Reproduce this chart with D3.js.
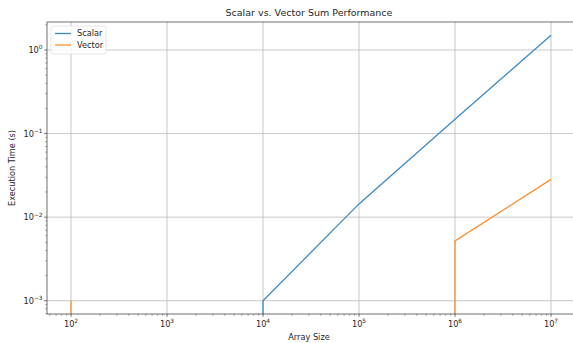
<!DOCTYPE html>
<meta charset="utf-8">
<script src="https://d3js.org/d3.v7.min.js"></script>
<style>
  body { margin: 0; background: white; }
  text { font-family: "DejaVu Sans", sans-serif; fill: #262626; }
</style>
<div id="chart"></div>
<script>

  // data (0 means below the log axis)
  var sizes = [1e2, 1e3, 1e4, 1e5, 1e6, 1e7];
  var scalarTimes = [0, 0, 0.001, 0.0144, 0.148, 1.5];
  var vectorTimes = [0.001, 0, 0, 0, 0.0052, 0.0283];
  var seriesNames = ["Scalar", "Vector"];
  var seriesColors = ["#3d8bc4", "#ff8f2e"];
  var xTickExps = [2, 3, 4, 5, 6, 7];
  var yTickExps = [-3, -2, -1, 0];

  var margin = {top: 22, right: -2, bottom: 29, left: 47},
      width = 573 - margin.left - margin.right,
      height = 343 - margin.top - margin.bottom;

  var svg = d3.select("#chart")
    .append("svg")
      .attr("width", 573)
      .attr("height", 343)
    .append("g")
      .attr("transform", "translate(" + margin.left + "," + margin.top + ")");

  // matplotlib style 5% margins in log space
  var x = d3.scaleLog()
    .domain([Math.pow(10, 1.75), Math.pow(10, 7.25)])
    .range([0, width]);

  var yMin = Math.log10(0.001), yMax = Math.log10(1.5);
  var pad = (yMax - yMin) * 0.05;
  var y = d3.scaleLog()
    .domain([Math.pow(10, yMin - pad), Math.pow(10, yMax + pad)])
    .range([height, 0]);

  svg.append("clipPath").attr("id", "clip")
    .append("rect").attr("width", width).attr("height", height);

  // grid
  svg.selectAll(".xgrid")
    .data(xTickExps)
    .enter().append("line")
      .attr("x1", function(d) { return x(Math.pow(10, d)); })
      .attr("x2", function(d) { return x(Math.pow(10, d)); })
      .attr("y1", 0).attr("y2", height)
      .attr("stroke", "#b0b0b0").attr("stroke-width", 0.7);
  svg.selectAll(".ygrid")
    .data(yTickExps)
    .enter().append("line")
      .attr("y1", function(d) { return y(Math.pow(10, d)); })
      .attr("y2", function(d) { return y(Math.pow(10, d)); })
      .attr("x1", 0).attr("x2", width)
      .attr("stroke", "#b0b0b0").attr("stroke-width", 0.7);

  // lines
  var series = [scalarTimes, vectorTimes];
  var line = d3.line()
    .x(function(d, i) { return x(sizes[i]); })
    .y(function(d) { return d > 0 ? y(d) : height + 100000; });

  svg.append("g").attr("clip-path", "url(#clip)")
    .selectAll("path")
    .data(series)
    .enter().append("path")
      .attr("d", line)
      .attr("fill", "none")
      .attr("stroke", function(d, i) { return seriesColors[i]; })
      .attr("stroke-width", 1.3);

  // frame
  svg.append("rect")
    .attr("width", width).attr("height", height)
    .attr("fill", "none").attr("stroke", "#333").attr("stroke-width", 0.7);

  // minor ticks
  var xMinor = [], yMinor = [];
  for (var e = 1; e <= 7; e++) for (var m = 2; m <= 9; m++) {
    var v = m * Math.pow(10, e);
    if (v > x.domain()[0] && v < x.domain()[1]) xMinor.push(v);
  }
  for (var e = -4; e <= 0; e++) for (var m = 2; m <= 9; m++) {
    var v = m * Math.pow(10, e);
    if (v > y.domain()[0] && v < y.domain()[1]) yMinor.push(v);
  }
  svg.selectAll(".xminor").data(xMinor).enter().append("line")
    .attr("x1", function(d) { return x(d); }).attr("x2", function(d) { return x(d); })
    .attr("y1", height).attr("y2", height + 1.6)
    .attr("stroke", "#333").attr("stroke-width", 0.5);
  svg.selectAll(".yminor").data(yMinor).enter().append("line")
    .attr("y1", function(d) { return y(d); }).attr("y2", function(d) { return y(d); })
    .attr("x1", 0).attr("x2", -1.6)
    .attr("stroke", "#333").attr("stroke-width", 0.5);

  // major ticks + labels
  var xt = svg.selectAll(".xtick").data(xTickExps).enter().append("g")
    .attr("transform", function(d) { return "translate(" + x(Math.pow(10, d)) + "," + height + ")"; });
  xt.append("line").attr("y2", 2.8).attr("stroke", "#333").attr("stroke-width", 0.7);
  var xl = xt.append("text").attr("y", 13).attr("text-anchor", "middle").style("font-size", "8.2px");
  xl.append("tspan").text("10");
  xl.append("tspan").attr("dy", -3.6).style("font-size", "5.8px").text(function(d) { return d; });

  var yt = svg.selectAll(".ytick").data(yTickExps).enter().append("g")
    .attr("transform", function(d) { return "translate(0," + y(Math.pow(10, d)) + ")"; });
  yt.append("line").attr("x2", -2.8).attr("stroke", "#333").attr("stroke-width", 0.7);
  var yl = yt.append("text").attr("x", -4.5).attr("y", 3).attr("text-anchor", "end").style("font-size", "8.2px");
  yl.append("tspan").text("10");
  yl.append("tspan").attr("dy", -3.6).style("font-size", "5.8px")
    .text(function(d) { return d < 0 ? "\u2212" + (-d) : d; });

  // labels
  svg.append("text")
    .attr("x", width / 2 - 2).attr("y", -6)
    .attr("text-anchor", "middle").style("font-size", "9.5px")
    .text("Scalar vs. Vector Sum Performance");
  svg.append("text")
    .attr("x", width / 2 - 2).attr("y", height + 25.5)
    .attr("text-anchor", "middle").style("font-size", "8.2px")
    .text("Array Size");
  svg.append("text")
    .attr("transform", "translate(-32," + (height / 2) + ") rotate(-90)")
    .attr("text-anchor", "middle").style("font-size", "8.2px")
    .text("Execution Time (s)");

  // legend
  var legend = svg.append("g").attr("transform", "translate(4,4)");
  legend.append("rect")
    .attr("width", 55).attr("height", 28).attr("rx", 2)
    .attr("fill", "white").attr("fill-opacity", 0.8)
    .attr("stroke", "#dddddd").attr("stroke-width", 0.7);
  var li = legend.selectAll(".item").data(seriesNames).enter().append("g")
    .attr("transform", function(d, i) { return "translate(0," + (7.5 + i * 11.5) + ")"; });
  li.append("line").attr("x1", 4).attr("x2", 20)
    .attr("stroke", function(d, i) { return seriesColors[i]; }).attr("stroke-width", 1.3);
  li.append("text").attr("x", 26).attr("y", 2.8).style("font-size", "8.2px").text(function(d) { return d; });

</script>
